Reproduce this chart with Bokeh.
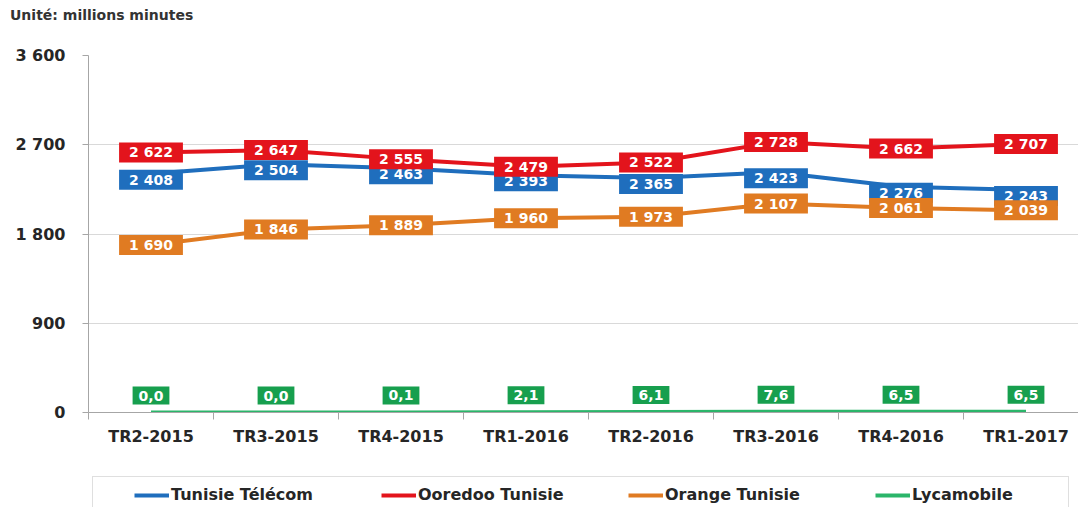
from bokeh.plotting import figure
from bokeh.layouts import column
from bokeh.models import (Range1d, FixedTicker, Legend, LegendItem, Div,
                          ColumnDataSource)
from bokeh.core.properties import value
from bokeh.embed import file_html
from bokeh.resources import INLINE

# ---- data ----
categories = ["TR2-2015", "TR3-2015", "TR4-2015", "TR1-2016",
              "TR2-2016", "TR3-2016", "TR4-2016", "TR1-2017"]
tunisie_telecom = [2408, 2504, 2463, 2393, 2365, 2423, 2276, 2243]
ooredoo = [2622, 2647, 2555, 2479, 2522, 2728, 2662, 2707]
orange = [1690, 1846, 1889, 1960, 1973, 2107, 2061, 2039]
lycamobile = [0.0, 0.0, 0.1, 2.1, 6.1, 7.6, 6.5, 6.5]
y_ticks = [0, 900, 1800, 2700, 3600]
y_tick_labels = ["0", "900", "1 800", "2 700", "3 600"]
series_names = ["Tunisie Télécom", "Ooredoo Tunisie", "Orange Tunisie", "Lycamobile"]
title_text = "Unité: millions minutes"

FONT = "DejaVu Sans"
BLUE, RED, ORANGE, GREEN, GREEN_LINE = "#1f6ebd", "#e3141c", "#e07b22", "#179f4e", "#2bb56a"
LINE_COLORS = [BLUE, RED, ORANGE, GREEN_LINE]

xs = list(range(len(categories)))

# ---- title strip ----
title_div = Div(
    text=('<div style="position:relative; top:7px; left:10px; white-space:nowrap; '
          "font-family:'DejaVu Sans'; font-weight:bold; font-size:14px; "
          'line-height:16px; color:#333333;">' + title_text + '</div>'),
    width=1078, height=30, margin=(0, 0, 0, 0))

# ---- main chart ----
p = figure(width=1078, height=446, output_backend="svg", toolbar_location=None,
           x_range=Range1d(-0.5, 7.42), y_range=Range1d(0, 3600),
           min_border_left=88, min_border_right=0, min_border_top=25,
           min_border_bottom=64)
p.outline_line_color = None
p.xgrid.grid_line_color = None
p.ygrid.grid_line_color = "#d9d9d9"
p.ygrid.grid_line_width = 1

p.yaxis.ticker = FixedTicker(ticks=y_ticks)
p.yaxis.major_label_overrides = {t: l for t, l in zip(y_ticks, y_tick_labels)}
p.yaxis.axis_line_color = "#a6a6a6"
p.yaxis.major_tick_line_color = "#a6a6a6"
p.yaxis.major_tick_out = 6
p.yaxis.major_tick_in = 0
p.yaxis.minor_tick_line_color = None
p.yaxis.major_label_standoff = 17
p.yaxis.major_label_text_font = FONT
p.yaxis.major_label_text_font_style = "bold"
p.yaxis.major_label_text_font_size = "16px"
p.yaxis.major_label_text_color = "#262626"

p.xaxis.ticker = FixedTicker(ticks=xs, minor_ticks=[i - 0.5 for i in range(len(categories) + 1)])
p.xaxis.major_label_overrides = {i: c for i, c in zip(xs, categories)}
p.xaxis.axis_line_color = "#a6a6a6"
p.xaxis.major_tick_out = 0
p.xaxis.major_tick_in = 0
p.xaxis.major_tick_line_color = None
p.xaxis.minor_tick_out = 7
p.xaxis.minor_tick_in = 0
p.xaxis.minor_tick_line_color = "#a6a6a6"
p.xaxis.major_label_standoff = 7
p.xaxis.major_label_text_font = FONT
p.xaxis.major_label_text_font_style = "bold"
p.xaxis.major_label_text_font_size = "16px"
p.xaxis.major_label_text_color = "#262626"


def fmt_int(v):
    return f"{v:,}".replace(",", " ")


def fmt_dec(v):
    return f"{v:.1f}".replace(".", ",")


series = [
    (tunisie_telecom, BLUE, BLUE, fmt_int, 6, (10, 2)),
    (ooredoo, RED, RED, fmt_int, 0, (10, 2)),
    (orange, ORANGE, ORANGE, fmt_int, 0, (10, 2)),
    (lycamobile, GREEN_LINE, GREEN, fmt_dec, -17, (6, 4)),
]

for vals, lc, bc, f, yo, pad in series:
    p.line(xs, vals, line_color=lc, line_width=4)

for vals, lc, bc, f, yo, pad in series:
    src = ColumnDataSource(dict(x=xs, y=vals, t=[f(v) for v in vals]))
    p.text(x="x", y="y", text="t", source=src, text_align="center",
           text_baseline="middle", text_color="white",
           text_font=value(FONT), text_font_style="bold",
           text_font_size="14px", y_offset=yo,
           background_fill_color=bc, padding=pad)

# ---- legend strip (its frame is aligned with the chart's frame) ----
# its ranges are far away from the data, so the proxy lines stay out of view
p2 = figure(width=1078, height=31, output_backend="svg", toolbar_location=None,
            x_range=Range1d(100, 101), y_range=Range1d(100, 101),
            x_axis_location=None, y_axis_location=None,
            min_border_left=88, min_border_right=0, min_border_top=0,
            min_border_bottom=0)
p2.outline_line_color = None
p2.xgrid.grid_line_color = None
p2.ygrid.grid_line_color = None

ghost = p2.line(xs, lycamobile, line_alpha=0)
frame_legend = Legend(items=[LegendItem(label=" ", renderers=[ghost])],
                      location=(4, -11), glyph_width=975, glyph_height=40,
                      label_height=40, label_standoff=0, label_width=0, padding=0,
                      margin=0, label_text_font_size="1px",
                      border_line_color="#bfbfbf", border_line_width=1,
                      background_fill_alpha=0)
p2.add_layout(frame_legend, "center")

leg_renderers = [p2.line(xs, s[0], line_color=c, line_width=4)
                 for s, c in zip(series, LINE_COLORS)]
legend = Legend(items=[LegendItem(label=n, renderers=[r]) for n, r in zip(series_names, leg_renderers)],
                orientation="horizontal", location=(46, 3),
                glyph_width=35, glyph_height=16, label_height=16, label_standoff=2,
                label_width=153, spacing=57, padding=4, margin=0,
                label_text_font=FONT, label_text_font_style="bold",
                label_text_font_size="16px", label_text_color="#262626",
                border_line_color=None, background_fill_alpha=0)
p2.add_layout(legend, "center")

layout = column(title_div, p, p2, spacing=0)
open("out.html", "w").write(file_html(layout, INLINE))
